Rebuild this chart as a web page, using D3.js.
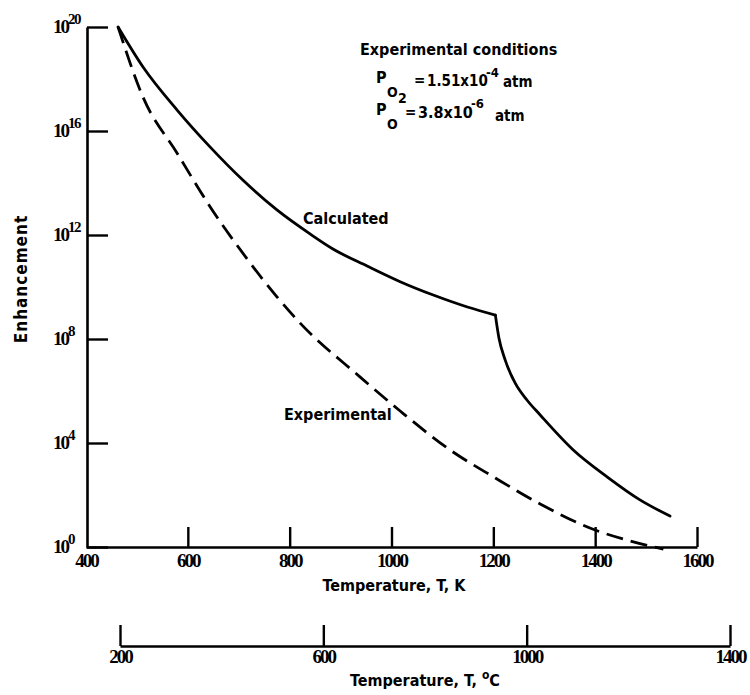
<!DOCTYPE html>
<html>
<head>
<meta charset="utf-8">
<script src="https://cdn.jsdelivr.net/npm/d3@7"></script>
<style>
  html, body { margin: 0; padding: 0; background: #fff; }
  svg { display: block; }
  .num { font-family: "Liberation Serif", "DejaVu Serif", serif; font-weight: bold; }
  .lbl { font-family: "DejaVu Sans Condensed", "Liberation Sans Narrow", "DejaVu Sans", sans-serif; font-weight: bold; }
</style>
</head>
<body>
<svg id="chart" width="750" height="695"></svg>
<script>
// temperature axis ticks (K and degC) and enhancement decades
const kelvinTicks = [400, 600, 800, 1000, 1200, 1400, 1600];
const celsiusTicks = [200, 600, 1000, 1400];
const enhancementTicks = [1, 1e4, 1e8, 1e12, 1e16, 1e20];
const enhancementExponents = ['0', '4', '8', '12', '16', '20'];

// calculated curve (solid), kink at ~1200 K
const calculatedT = [463, 512, 579, 644, 708, 775, 840, 885, 952, 1017, 1082, 1149, 1204,
                     1211, 1223, 1243, 1266, 1292, 1357, 1424, 1488, 1547];
const calculatedE = [1e20, 2.9e18, 6.4e16, 2.4e15, 1.3e14, 9.2e12, 1.1e12, 2.9e11, 6.4e10, 1.6e10, 4.9e9, 1.7e9, 8.3e8,
                     1.1e8, 1.6e7, 2.0e6, 4.5e5, 1.2e5, 5.4e3, 490, 65, 15.5];
const calculatedKinkT = 1204;

// experimental curve (dashed)
const experimentalT = [463, 512, 579, 644, 708, 775, 820, 938, 1017, 1115, 1204, 1292, 1400, 1469, 1534];
const experimentalE = [1e20, 2.0e17, 1.4e15, 1.2e13, 2.0e11, 4.2e9, 4.2e8, 3.5e6, 1.7e5, 5.4e3, 450, 45, 4.5, 1.7, 0.83];

const svg = d3.select('#chart');

// scales
const x = d3.scaleLinear().domain([400, 1600]).range([86, 697]);
const xc = d3.scaleLinear().domain([200, 1400]).range([120, 730]);
const y = d3.scaleLog().domain([1, 1e20]).range([547, 27]);

const axisY0 = 547;
const axisC0 = 646;

function styleAxis(g) {
    g.select('.domain').attr('stroke', '#000').attr('stroke-width', 2.6);
    g.selectAll('.tick line').attr('stroke', '#000').attr('stroke-width', 2.4);
    g.selectAll('.tick text')
        .attr('class', 'num')
        .attr('fill', '#000')
        .attr('font-size', 19)
        .attr('letter-spacing', -2);
}

// y axis, ticks pointing inward
const gy = svg.append('g')
    .attr('transform', 'translate(87,0)')
    .call(d3.axisLeft(y).tickValues(enhancementTicks).tickSize(-21).tickSizeOuter(0).tickFormat(''));
styleAxis(gy);

// y tick labels 10^n
const yLabels = svg.append('g');
enhancementTicks.forEach((v, i) => {
    const t = yLabels.append('text')
        .attr('class', 'num')
        .attr('x', 53)
        .attr('y', y(v) + 6)
        .attr('font-size', 19)
        .attr('letter-spacing', -2)
        .text('10');
    t.append('tspan')
        .attr('dy', -9)
        .attr('font-size', 15)
        .attr('letter-spacing', -1.5)
        .text(enhancementExponents[i]);
});

// kelvin axis
const gx = svg.append('g')
    .attr('transform', `translate(0,${axisY0})`)
    .call(d3.axisBottom(x).tickValues(kelvinTicks).tickSize(-20).tickSizeOuter(0).tickPadding(7).tickFormat(d3.format('d')));
styleAxis(gx);
gx.selectAll('.tick').filter(d => d === 400).select('line').remove();

// celsius axis
const gc = svg.append('g')
    .attr('transform', `translate(0,${axisC0})`)
    .call(d3.axisBottom(xc).tickValues(celsiusTicks).tickSize(-21).tickSizeOuter(0).tickPadding(3).tickFormat(d3.format('d')));
styleAxis(gc);

// axis titles
svg.append('text')
    .attr('class', 'lbl')
    .attr('x', 394).attr('y', 591)
    .attr('text-anchor', 'middle')
    .attr('font-size', 16)
    .text('Temperature, T, K');

const ct = svg.append('text')
    .attr('class', 'lbl')
    .attr('x', 425).attr('y', 686)
    .attr('text-anchor', 'middle')
    .attr('font-size', 16)
    .text('Temperature, T, ');
ct.append('tspan').attr('dy', -7).attr('font-size', 12).text('o');
ct.append('tspan').attr('dy', 7).text('C');

svg.append('text')
    .attr('class', 'lbl')
    .attr('transform', 'translate(27,279) rotate(-90)')
    .attr('text-anchor', 'middle')
    .attr('font-size', 17)
    .attr('letter-spacing', 1)
    .text('Enhancement');

// curves
const line = d3.line()
    .x(d => x(d.t))
    .y(d => y(d.e))
    .curve(d3.curveMonotoneX);

const calc = calculatedT.map((t, i) => ({ t: t, e: calculatedE[i] }));
const exper = experimentalT.map((t, i) => ({ t: t, e: experimentalE[i] }));
const kink = calculatedT.indexOf(calculatedKinkT);

const curves = svg.append('g')
    .attr('fill', 'none')
    .attr('stroke', '#000')
    .attr('stroke-width', 2.8)
    .attr('stroke-linecap', 'round')
    .attr('stroke-linejoin', 'round');

curves.append('path').attr('d', line(calc.slice(0, kink + 1)));
curves.append('path').attr('d', line(calc.slice(kink)));
curves.append('path')
    .attr('d', line(exper))
    .attr('stroke-linecap', 'butt')
    .attr('stroke-dasharray', '17,8');

// curve labels
svg.append('text')
    .attr('class', 'lbl')
    .attr('x', 303).attr('y', 224)
    .attr('font-size', 16)
    .text('Calculated');

svg.append('text')
    .attr('class', 'lbl')
    .attr('x', 284).attr('y', 420)
    .attr('font-size', 16)
    .text('Experimental');

// experimental conditions note
const note = svg.append('g');
note.append('text')
    .attr('class', 'lbl')
    .attr('x', 360).attr('y', 55)
    .attr('font-size', 16)
    .text('Experimental conditions');

// P_O2 line
note.append('text').attr('class', 'lbl').attr('x', 376).attr('y', 83).attr('font-size', 16).text('P');
note.append('text').attr('class', 'lbl').attr('x', 387).attr('y', 97).attr('font-size', 14).text('O');
note.append('text').attr('class', 'lbl').attr('x', 398).attr('y', 103).attr('font-size', 14).text('2');
note.append('text').attr('class', 'lbl').attr('x', 414).attr('y', 85).attr('font-size', 15).text('=');
note.append('text').attr('class', 'lbl').attr('x', 427).attr('y', 86).attr('font-size', 15).text('1.51x10');
note.append('text').attr('class', 'lbl').attr('x', 486).attr('y', 77).attr('font-size', 13).text('-4');
note.append('text').attr('class', 'lbl').attr('x', 503).attr('y', 87).attr('font-size', 15).text('atm');

// P_O line
note.append('text').attr('class', 'lbl').attr('x', 376).attr('y', 115).attr('font-size', 16).text('P');
note.append('text').attr('class', 'lbl').attr('x', 387).attr('y', 129).attr('font-size', 14).text('O');
note.append('text').attr('class', 'lbl').attr('x', 405).attr('y', 117).attr('font-size', 15).text('=');
note.append('text').attr('class', 'lbl').attr('x', 418).attr('y', 118).attr('font-size', 16).text('3.8x10');
note.append('text').attr('class', 'lbl').attr('x', 471).attr('y', 108).attr('font-size', 13).text('-6');
note.append('text').attr('class', 'lbl').attr('x', 495).attr('y', 121).attr('font-size', 15).text('atm');
</script>
</body>
</html>
